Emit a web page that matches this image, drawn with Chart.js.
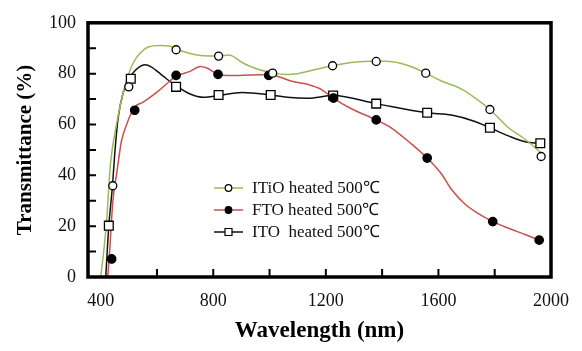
<!DOCTYPE html>
<html>
<head>
<meta charset="utf-8">
<script src="https://cdn.jsdelivr.net/npm/chart.js@4/dist/chart.umd.min.js"></script>
<style>
body { margin: 0; background: #fff; }
#wrap { width: 582px; height: 351px; }
</style>
</head>
<body>
<div id="wrap"><canvas id="trans_chart" width="582" height="351"></canvas></div>
<script>
const seriesNames = ['ITiO heated 500\u2103', 'FTO heated 500\u2103', 'ITO  heated 500\u2103'];

// smooth curves (wavelength nm / transmittance %)
const itioLineNm = [400, 411, 421, 435, 456, 480, 497, 515, 539, 569, 611, 646, 668, 718, 765, 819, 855, 907, 956, 1010, 1063, 1099, 1170, 1224, 1289, 1379, 1438, 1497, 1555, 1611, 1682, 1742, 1783, 1849, 1908, 1968];
const itioLineT = [0, 10.3, 21.8, 44.7, 59.9, 72.6, 79.0, 84.1, 87.9, 90.5, 91.1, 90.8, 89.7, 87.9, 87.0, 86.9, 87.3, 84.1, 81.8, 80.3, 79.7, 80.0, 81.8, 83.1, 84.4, 85.0, 84.7, 83.0, 80.2, 77.1, 73.9, 69.5, 65.9, 58.7, 54.2, 48.5];
const ftoLineNm = [425, 432, 443, 457, 474, 492, 510, 521, 551, 599, 646, 668, 718, 754, 777, 819, 861, 998, 1028, 1075, 1135, 1182, 1227, 1289, 1379, 1432, 1498, 1560, 1611, 1646, 1694, 1742, 1793, 1849, 1908, 1958];
const ftoLineT = [0, 10.3, 29.4, 40.8, 53.5, 59.9, 64.8, 66.9, 68.8, 72.6, 77.1, 79.0, 80.9, 82.8, 82.2, 79.7, 79.3, 79.7, 79.0, 77.1, 75.8, 73.9, 70.3, 66.3, 61.8, 58.7, 52.9, 46.8, 40.5, 34.5, 28.7, 24.9, 21.8, 19.2, 16.7, 14.5];
const itoLineNm = [418, 429, 442, 450, 462, 480, 497, 515, 539, 557, 581, 622, 668, 718, 765, 819, 902, 1004, 1063, 1135, 1226, 1379, 1560, 1646, 1730, 1783, 1849, 1908, 1962];
const itoLineT = [0, 20.2, 35.9, 48.5, 62.5, 72.6, 77.1, 80.3, 82.8, 83.5, 82.6, 79.0, 75.2, 72.0, 70.7, 71.4, 72.6, 71.6, 70.7, 70.3, 71.4, 68.2, 64.6, 63.7, 61.2, 58.7, 55.5, 53.2, 52.6];

// measured points (markers)
const itioMarkNm = [443, 500, 668, 819, 1011, 1224, 1379, 1555, 1783, 1965];
const itioMarkT = [35.9, 74.8, 89.4, 86.9, 80.2, 83.1, 84.8, 80.2, 65.9, 47.4];
const ftoMarkNm = [439, 521, 668, 817, 997, 1227, 1379, 1560, 1793, 1958];
const ftoMarkT = [7.1, 65.6, 79.3, 79.7, 79.3, 70.4, 61.8, 46.8, 21.8, 14.5];
const itoMarkNm = [429, 507, 668, 819, 1004, 1226, 1379, 1560, 1783, 1962];
const itoMarkT = [20.2, 78.0, 74.8, 71.6, 71.6, 71.4, 68.2, 64.6, 58.7, 52.6];

const xLabelTicks = [400, 800, 1200, 1600, 2000];
const xTickMarks = [600, 800, 1000, 1200, 1400, 1600, 1800];
const yTickMarks = [10, 20, 30, 40, 50, 60, 70, 80, 90];

const GREEN = '#9bbb59';
const RED = '#c9504f';
const BLACK = '#111111';
const SERIF = "'Liberation Serif', 'Times New Roman', serif";

const pts = (xs, ys) => xs.map((v, i) => ({x: v, y: ys[i]}));

const markStyles = [
	{color: GREEN, style: 'circle', fill: '#fff', r: 4},
	{color: RED, style: 'circle', fill: '#000', r: 4.2},
	{color: BLACK, style: 'rect', fill: '#fff', r: 6.2}
];

const frameAndLegend = {
	id: 'frameAndLegend',
	afterDatasetsDraw(chart) {
		const {ctx, chartArea: a, scales: {x, y}} = chart;
		ctx.save();
		ctx.strokeStyle = '#000';
		ctx.lineWidth = 2;
		ctx.beginPath();
		yTickMarks.forEach(v => {
			const py = y.getPixelForValue(v);
			ctx.moveTo(a.left, py); ctx.lineTo(a.left + 8, py);
		});
		xTickMarks.forEach(v => {
			const px = x.getPixelForValue(v);
			ctx.moveTo(px, a.bottom); ctx.lineTo(px, a.bottom - 8);
		});
		ctx.stroke();
		ctx.lineWidth = 3.5;
		ctx.strokeRect(a.left, a.top, a.right - a.left, a.bottom - a.top);

		// legend
		ctx.font = '17px ' + SERIF;
		ctx.textBaseline = 'middle';
		ctx.fillStyle = '#111';
		seriesNames.forEach((name, i) => {
			const ly = 188 + i * 22;
			const m = markStyles[i];
			ctx.strokeStyle = m.color;
			ctx.lineWidth = 1.5;
			ctx.beginPath(); ctx.moveTo(214, ly); ctx.lineTo(243, ly); ctx.stroke();
			ctx.strokeStyle = '#000';
			ctx.lineWidth = 1.2;
			ctx.fillStyle = m.fill;
			ctx.beginPath();
			if (m.style === 'rect') ctx.rect(225, ly - 3.5, 7, 7);
			else ctx.arc(228.5, ly, 3.3, 0, Math.PI * 2);
			ctx.fill(); ctx.stroke();
			ctx.fillStyle = '#111';
			ctx.fillText(name, 252, ly + 1);
		});
		ctx.restore();
	}
};

const lineSet = (data, color) => ({
	data: data, showLine: true, borderColor: color, borderWidth: 1.5,
	pointRadius: 0, cubicInterpolationMode: 'monotone', fill: false
});
const markSet = (data, m) => ({
	data: data, showLine: false, pointStyle: m.style, pointRadius: m.r,
	pointBorderColor: '#000', pointBackgroundColor: m.fill, pointBorderWidth: 1.3
});

new Chart(document.getElementById('trans_chart'), {
	type: 'scatter',
	data: {
		datasets: [
			markSet(pts(itioMarkNm, itioMarkT), markStyles[0]),
			markSet(pts(ftoMarkNm, ftoMarkT), markStyles[1]),
			markSet(pts(itoMarkNm, itoMarkT), markStyles[2]),
			lineSet(pts(itioLineNm, itioLineT), GREEN),
			lineSet(pts(ftoLineNm, ftoLineT), RED),
			lineSet(pts(itoLineNm, itoLineT), BLACK)
		]
	},
	options: {
		responsive: false,
		animation: false,
		layout: {padding: {left: 0, right: 31, top: 15, bottom: 0}},
		plugins: {legend: {display: false}, tooltip: {enabled: false}},
		scales: {
			x: {
				type: 'linear', min: 355, max: 2000,
				grid: {display: false, drawTicks: false},
				border: {display: false},
				afterBuildTicks: s => { s.ticks = xLabelTicks.map(v => ({value: v})); },
				afterFit: s => { s.height = 74; },
				ticks: {padding: 13, color: '#111', font: {family: SERIF, size: 18}, maxRotation: 0, autoSkip: false,
					callback: v => String(v)},
				title: {display: true, text: 'Wavelength (nm)', color: '#000',
					font: {family: SERIF, size: 23, weight: 'bold'}, padding: {top: 0, bottom: 6}}
			},
			y: {
				min: 0, max: 100,
				grid: {display: false, drawTicks: false},
				border: {display: false},
				afterFit: s => { s.width = 88; },
				ticks: {stepSize: 20, padding: 12, color: '#111', font: {family: SERIF, size: 18}},
				title: {display: true, text: 'Transmittance (%)', color: '#000',
					font: {family: SERIF, size: 21, weight: 'bold'}, padding: {top: 13, bottom: 0}}
			}
		}
	},
	plugins: [frameAndLegend]
});
</script>
</body>
</html>
